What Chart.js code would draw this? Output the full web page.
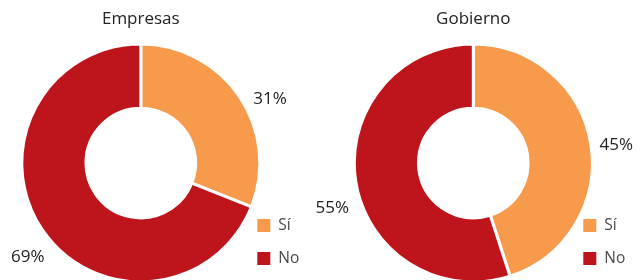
<!DOCTYPE html>
<html>
<head>
<meta charset="utf-8">
<script src="https://cdn.jsdelivr.net/npm/chart.js@4/dist/chart.umd.min.js"></script>
<style>
  html, body { margin: 0; padding: 0; background: #fff; overflow: hidden; }
  .wrap { position: absolute; top: 0; height: 284px; }
  #w1 { left: 0; width: 320px; }
  #w2 { left: 290px; width: 353px; }
</style>
</head>
<body>
<div class="wrap" id="w1"><canvas id="chart1"></canvas></div>
<div class="wrap" id="w2"><canvas id="chart2"></canvas></div>
<script>
// Datos
const categorias = ['Sí', 'No'];
const empresas = [31, 69];
const gobierno = [45, 55];
const titulos = ['Empresas', 'Gobierno'];

const colores = ['#F79A4C', '#BE151D'];
const fuente = '"Open Sans", "Noto Sans", sans-serif';

// Plugin: título, etiquetas de porcentaje y leyenda
function etiquetas(titulo, ajusteAngulo, ajusteDist, leyendaX) {
  return {
    id: 'etiquetas',
    afterDraw(chart) {
      const ctx = chart.ctx;
      const meta = chart.getDatasetMeta(0);
      const arcs = meta.data;
      const cx = arcs[0].x, cy = arcs[0].y;
      const r = arcs[0].outerRadius;
      ctx.save();
      // título
      ctx.fillStyle = '#222';
      ctx.font = '17px ' + fuente;
      ctx.textAlign = 'center';
      ctx.textBaseline = 'middle';
      ctx.fillText(titulo, cx, 19);
      // porcentajes
      ctx.font = '17px ' + fuente;
      arcs.forEach((a, i) => {
        const mid = (a.startAngle + a.endAngle) / 2 + ajusteAngulo[i] * Math.PI / 180;
        const d = r + ajusteDist[i];
        const v = chart.data.datasets[0].data[i];
        ctx.fillText(v + '%', cx + Math.cos(mid) * d, cy + Math.sin(mid) * d);
      });
      // leyenda
      const lx = cx + leyendaX;
      ctx.font = '15.5px ' + fuente;
      ctx.textAlign = 'left';
      chart.data.labels.forEach((lab, i) => {
        const y = 219 + i * 33;
        ctx.fillStyle = colores[i];
        ctx.fillRect(lx, y, 13, 13);
        ctx.fillStyle = '#4a4a4a';
        ctx.fillText(lab, lx + 21, y + 7);
      });
      ctx.restore();
    }
  };
}

function crear(id, valores, titulo, padding, ajusteAngulo, ajusteDist, leyendaX) {
  const ctx = document.getElementById(id).getContext('2d');
  return new Chart(ctx, {
    type: 'doughnut',
    data: {
      labels: categorias,
      datasets: [{
        data: valores,
        backgroundColor: colores,
        borderColor: '#fff',
        borderWidth: 3,
        radius: 119,
        hoverOffset: 0
      }]
    },
    options: {
      responsive: true,
      maintainAspectRatio: false,
      animation: false,
      cutout: 55,
      layout: { padding: padding },
      plugins: {
        legend: { display: false },
        title: { display: false },
        tooltip: { enabled: false }
      }
    },
    plugins: [etiquetas(titulo, ajusteAngulo, ajusteDist, leyendaX)]
  });
}

crear('chart1', empresas, titulos[0], { left: 20, right: 58.4, top: 42, bottom: 0 }, [8, -5.5], [25, 28], 116.5);
crear('chart2', gobierno, titulos[1], { left: 62.5, right: 48.9, top: 42, bottom: 0 }, [2, -8.6], [25, 29], 110);
</script>
</body>
</html>
